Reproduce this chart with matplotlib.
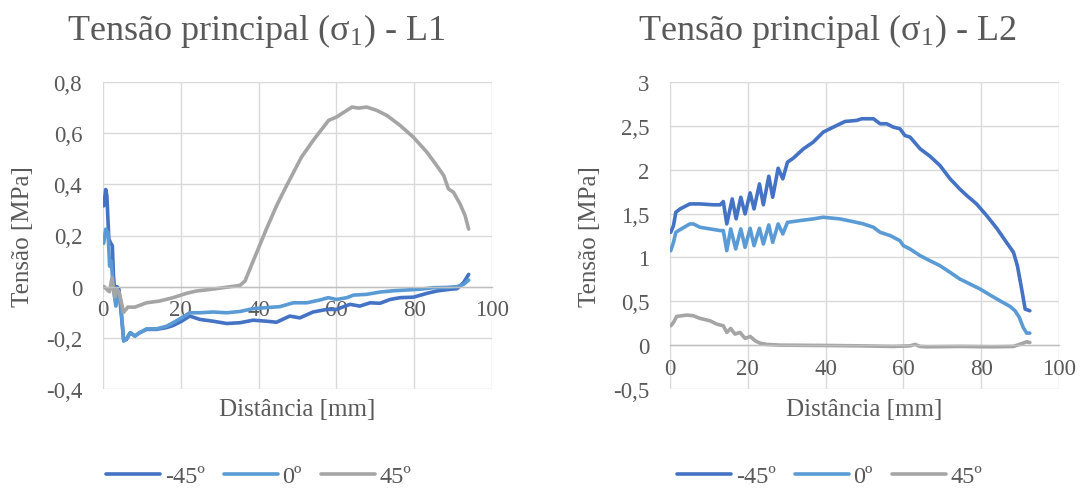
import matplotlib
matplotlib.use("Agg")
import matplotlib.pyplot as plt
from matplotlib.ticker import FuncFormatter, MultipleLocator

plt.rcParams['font.family'] = ['Liberation Serif', 'DejaVu Serif']
plt.rcParams['mathtext.fontset'] = 'custom'
plt.rcParams['mathtext.rm'] = 'Liberation Serif'
plt.rcParams['mathtext.it'] = 'Liberation Serif'

# ---- L1 data ----
l1_x_m45 = [0.2, 0.7, 1.0, 1.5, 2.0, 2.4, 2.7, 3.3, 3.6, 4.1, 5.3, 6.0, 7.0, 8.2, 9.4, 11.2, 13.7, 16.3,
            18.0, 20.2, 22.3, 24.9, 28.3, 31.8, 35.2, 38.6, 42.0, 44.6, 48.0, 50.6, 54.0, 57.5, 60.0, 63.5,
            66.0, 68.7, 71.2, 73.8, 76.4, 79.8, 83.3, 85.8, 89.3, 91.0, 92.7, 94.0]
l1_y_m45 = [0.316, 0.38, 0.355, 0.186, 0.17, 0.16, 0.04, -0.063, 0.0, -0.01, -0.207, -0.207, -0.18, -0.193,
            -0.18, -0.167, -0.167, -0.16, -0.152, -0.135, -0.115, -0.128, -0.135, -0.144, -0.141, -0.131,
            -0.135, -0.139, -0.115, -0.122, -0.099, -0.089, -0.089, -0.069, -0.076, -0.063, -0.065, -0.05,
            -0.043, -0.041, -0.026, -0.017, -0.01, -0.008, 0.016, 0.048]

l1_x_0 = [0.2, 0.7, 1.3, 1.7, 2.1, 2.7, 3.3, 3.9, 4.5, 5.3, 6.2, 7.0, 8.2, 9.4, 11.2, 13.7, 16.3, 18.0,
          20.2, 22.3, 24.9, 28.3, 31.8, 35.2, 38.6, 42.0, 45.5, 48.9, 52.4, 55.8, 57.9, 60.0, 62.7, 64.4,
          67.8, 71.2, 74.7, 78.1, 81.5, 85.0, 88.4, 91.0, 92.7, 94.0]
l1_y_0 = [0.17, 0.225, 0.21, 0.08, 0.10, -0.01, -0.076, -0.037, -0.05, -0.213, -0.2, -0.18, -0.193, -0.18,
          -0.165, -0.165, -0.155, -0.141, -0.122, -0.102, -0.102, -0.099, -0.102, -0.097, -0.086, -0.082,
          -0.078, -0.063, -0.063, -0.052, -0.043, -0.05, -0.043, -0.033, -0.03, -0.021, -0.016, -0.013,
          -0.01, -0.004, -0.003, 0.0, 0.009, 0.026]

l1_x_45 = [0.3, 0.9, 1.7, 2.3, 3.0, 3.6, 4.1, 5.3, 6.4, 8.2, 11.2, 14.6, 18.0, 21.5, 24.0, 29.0, 35.2,
           36.5, 38.6, 42.0, 44.6, 47.2, 51.0, 54.0, 58.0, 60.0, 64.0, 65.7, 67.8, 70.4, 73.0, 76.4, 79.8,
           83.3, 85.8, 87.6, 88.8, 90.1, 91.8, 93.1, 94.0]
l1_y_45 = [0.0, -0.01, -0.02, 0.035, -0.04, -0.01, -0.02, -0.10, -0.08, -0.08, -0.063, -0.056, -0.043,
           -0.026, -0.017, -0.008, 0.005, 0.022, 0.10, 0.225, 0.316, 0.395, 0.506, 0.571, 0.65, 0.663,
           0.702, 0.698, 0.702, 0.689, 0.669, 0.63, 0.584, 0.525, 0.473, 0.434, 0.382, 0.369, 0.323,
           0.277, 0.225]

# ---- L2 data ----
l2_x_m45 = [0.2, 0.9, 1.5, 2.6, 5.1, 7.7, 11.1, 12.9, 13.7, 14.6, 16.0, 17.0, 18.2, 19.3, 20.6, 21.6,
            23.0, 24.0, 25.4, 26.4, 27.8, 29.0, 30.2, 31.7, 34.3, 36.8, 39.4, 42.0, 45.0, 48.0, 49.3,
            52.3, 54.0, 55.7, 57.4, 59.1, 60.4, 61.7, 64.3, 66.8, 69.4, 72.0, 74.5, 76.3, 78.8, 81.4,
            84.0, 86.5, 88.3, 89.3, 90.4, 91.3, 92.5]
l2_y_m45 = [1.287, 1.363, 1.515, 1.553, 1.61, 1.61, 1.60, 1.60, 1.637, 1.382, 1.667, 1.44, 1.686, 1.496,
            1.736, 1.553, 1.838, 1.60, 1.926, 1.686, 2.017, 1.896, 2.086, 2.132, 2.238, 2.314, 2.429,
            2.486, 2.55, 2.562, 2.581, 2.581, 2.524, 2.524, 2.486, 2.467, 2.39, 2.372, 2.238, 2.155,
            2.048, 1.896, 1.78, 1.705, 1.61, 1.477, 1.332, 1.172, 1.058, 0.906, 0.64, 0.411, 0.392]

l2_x_0 = [0.2, 0.9, 1.5, 2.6, 5.1, 6.0, 7.7, 10.3, 12.9, 13.7, 14.6, 15.6, 16.9, 18.2, 19.3, 20.6, 21.6,
          23.0, 24.0, 25.4, 26.4, 27.8, 29.0, 30.2, 33.4, 36.8, 39.4, 43.7, 47.1, 49.7, 52.3, 54.0, 56.6,
          59.1, 60.0, 61.7, 64.3, 66.8, 69.4, 72.0, 74.5, 77.1, 79.7, 82.3, 84.8, 87.4, 88.7, 89.8, 90.8,
          91.7, 92.5]
l2_y_0 = [1.077, 1.172, 1.287, 1.317, 1.382, 1.382, 1.344, 1.325, 1.306, 1.306, 1.077, 1.325, 1.096,
          1.325, 1.115, 1.332, 1.134, 1.332, 1.153, 1.37, 1.172, 1.382, 1.268, 1.40, 1.42, 1.439, 1.458,
          1.439, 1.408, 1.382, 1.344, 1.287, 1.249, 1.191, 1.134, 1.096, 1.02, 0.963, 0.906, 0.83, 0.754,
          0.697, 0.64, 0.571, 0.506, 0.442, 0.392, 0.316, 0.202, 0.137, 0.137]

l2_x_45 = [0.2, 0.9, 1.7, 4.3, 6.0, 7.7, 10.3, 12.0, 13.7, 14.6, 15.6, 16.7, 18.0, 19.3, 20.6, 21.9,
           23.1, 24.9, 28.3, 40.3, 48.8, 57.4, 61.7, 63.0, 64.3, 66.0, 74.5, 83.1, 88.3, 90.0, 91.7, 92.5]
l2_y_45 = [0.221, 0.259, 0.327, 0.343, 0.335, 0.305, 0.278, 0.24, 0.221, 0.145, 0.19, 0.126, 0.145,
           0.076, 0.099, 0.05, 0.023, 0.008, 0.0, -0.004, -0.008, -0.015, -0.008, 0.008, -0.015, -0.019,
           -0.015, -0.019, -0.015, 0.011, 0.038, 0.03]

labels = ['-45º', '0º', '45º']
colors = ['#4472C4', '#5B9BD5', '#A5A5A5']
txt = '#595959'

fig = plt.figure(figsize=(10.8, 4.89), dpi=100)
ax1 = fig.add_axes([103/1080, 99/489, 389/1080, 307/489])
ax2 = fig.add_axes([670/1080, 99/489, 389/1080, 307/489])

comma = FuncFormatter(lambda v, p: f"{v:g}".replace('.', ','))

panels = [
    (ax1, [(l1_x_m45, l1_y_m45), (l1_x_0, l1_y_0), (l1_x_45, l1_y_45)], (-0.4, 0.8), 0.2, 'L1', 256),
    (ax2, [(l2_x_m45, l2_y_m45), (l2_x_0, l2_y_0), (l2_x_45, l2_y_45)], (-0.5, 3), 0.5, 'L2', 827),
]

for ax, series, ylim, step, name, cx in panels:
    for (xs, ys), lab, c in zip(series, labels, colors):
        ax.plot(xs, ys, color=c, lw=2.6, label=lab, solid_joinstyle='round', solid_capstyle='round')
    ax.set_xlim(0, 100)
    ax.set_ylim(*ylim)
    ax.xaxis.set_major_locator(MultipleLocator(20))
    ax.yaxis.set_major_locator(MultipleLocator(step))
    ax.yaxis.set_major_formatter(comma)
    ax.grid(True, color='#D9D9D9', lw=1)
    ax.set_axisbelow(True)
    for s in ['top', 'right', 'left']:
        ax.spines[s].set_visible(False)
    ax.spines['bottom'].set_position(('data', 0))
    ax.spines['bottom'].set_color('#BFBFBF')
    ax.spines['bottom'].set_linewidth(1)
    ax.tick_params(axis='x', length=0, pad=9, labelsize=16.5, labelcolor=txt)
    ax.tick_params(axis='y', length=0, pad=15, labelsize=16.5, labelcolor=txt)
    ax.set_ylabel('Tensão [MPa]', fontsize=18, color=txt)
    ax.yaxis.label.set_va('center')
    ax.yaxis.set_label_coords(-0.205, 0.5)
    ax.set_xlabel('Distância [mm]', fontsize=18, color=txt)
    ax.xaxis.label.set_va('center')
    ax.xaxis.set_label_coords(0.5, -0.065)
    fig.text(cx / 1080, 1 - 40 / 489, r'Tensão principal ($\mathregular{\sigma_1}$) - ' + name,
             fontsize=26, color=txt, ha='center', va='baseline')
    ax.legend(loc='center', bbox_to_anchor=((cx + 3) / 1080, 1 - 477 / 489), bbox_transform=fig.transFigure,
              ncol=3, frameon=False, fontsize=17.5, labelcolor=txt, handlelength=2.2,
              handletextpad=0.2, columnspacing=0.8)

fig.savefig('out.png', dpi=100)
